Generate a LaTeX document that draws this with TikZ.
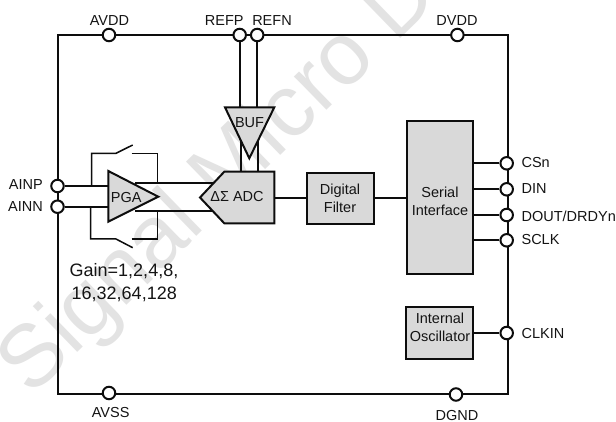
\documentclass[tikz,border=0pt]{standalone}
\usepackage{fontspec}
\setmainfont{Liberation Sans}
\tikzset{
  wire/.style={line width=2pt,draw=black!95,line join=miter},
  thin wire/.style={line width=1.5pt,draw=black!95},
  pin/.style={circle,draw=black!95,line width=2pt,fill=white,minimum size=12.5pt,inner sep=0pt},
  block/.style={draw=black!95,line width=2pt,fill=boxgray,inner sep=0pt},
  lbl/.style={inner sep=0pt,font=\fontsize{14.5}{17.7}\selectfont,text=black!92},
  inlbl/.style={lbl,align=center},
}
\definecolor{boxgray}{HTML}{D9D9D9}
\definecolor{wm}{HTML}{E3E3E3}
\begin{document}
\begin{tikzpicture}[x=1pt,y=-1pt]
\useasboundingbox (0,0) rectangle (616,422);
\fill[white] (0,0) rectangle (616,422);
\begin{scope}
\clip (0,0) rectangle (616,422);
\node[anchor=base west,rotate=44.2,inner sep=0pt,text=wm,font=\fontsize{88}{88}\selectfont] (wmark) at (31,398) {Signal Micro D};
\end{scope}
% frame
\coordinate (tl) at (58,35);
\coordinate (tr) at (508,35);
\coordinate (br) at (508,394);
\coordinate (bl) at (58,394);
\draw[wire] (tl) -- (tr) -- (br) -- (bl) -- cycle;
% blocks
\node[block,minimum width=66pt,minimum height=153pt] (serial) at (440,197.5) {};
\node[block,minimum width=67pt,minimum height=52pt] (osc) at (439.5,333.3) {};
\node[block,minimum width=67pt,minimum height=51.5pt] (filter) at (340,198.3) {};
% pins
\node[pin] (avdd) at (109,35) {};
\node[pin] (refp) at (239.7,35) {};
\node[pin] (refn) at (257.2,35) {};
\node[pin] (dvdd) at (457.4,35) {};
\node[pin] (avss) at (109,393) {};
\node[pin] (dgnd) at (456,394.5) {};
\node[pin] (ainp) at (57.5,186) {};
\node[pin] (ainn) at (57.5,206.7) {};
\node[pin] (csn) at (506.7,163.3) {};
\node[pin] (din) at (506.7,189.3) {};
\node[pin] (dout) at (506.7,215) {};
\node[pin] (sclk) at (506.7,240.3) {};
\node[pin] (clkin) at (506.7,333) {};
% geometry
\coordinate (pgaL1) at (108.3,171);
\coordinate (pgaL2) at (108.3,221.7);
\coordinate (pgaT) at (158.3,196.7);
\coordinate (adcA) at (224.3,171.7);
\coordinate (adcB) at (274.3,171.7);
\coordinate (adcC) at (274.3,223.3);
\coordinate (adcD) at (224.3,223.3);
\coordinate (adcT) at (200,197.5);
\coordinate (bufA) at (225,107.3);
\coordinate (bufB) at (274.3,107.3);
\coordinate (bufT) at (249.3,158.3);
% connectors
\draw[wire] (ainp.east) -- (pgaL1 |- ainp.east);
\draw[wire] (ainn.east) -- (pgaL1 |- ainn.east);
\draw[wire] (135,183.3) -- (214,183.3);
\draw[wire] (135,210.7) -- (214,210.7);
\draw[wire] (refp.south) -- (refp |- bufA);
\draw[wire] (refn.south) -- (refn |- bufA);
\draw[wire] (241,125) -- (241,171.7);
\draw[wire] (257.7,125) -- (257.7,171.7);
\draw[wire] (adcB |- filter.west) -- (filter.west);
\draw[wire] (filter.east) -- (serial.west |- filter.east);
\draw[wire] (serial.east |- csn) -- (csn.west);
\draw[wire] (serial.east |- din) -- (din.west);
\draw[wire] (serial.east |- dout) -- (dout.west);
\draw[wire] (serial.east |- sclk) -- (sclk.west);
\draw[wire] (osc.east |- clkin) -- (clkin.west);
% switches
\coordinate (s1a) at (91.7,186);
\coordinate (s1b) at (91.7,153.3);
\coordinate (s1c) at (116,153.3);
\coordinate (s1d) at (132.7,145);
\coordinate (s1e) at (131.7,153.3);
\coordinate (s1f) at (157.3,153.3);
\coordinate (s1g) at (157.3,183.3);
\draw[thin wire] (s1a) -- (s1b) -- (s1c) -- (s1d);
\draw[thin wire] (s1e) -- (s1f) -- (s1g);
\coordinate (s2a) at (90.7,206.7);
\coordinate (s2b) at (90.7,239);
\coordinate (s2c) at (116,239);
\coordinate (s2d) at (132.7,247.7);
\coordinate (s2e) at (131.7,239);
\coordinate (s2f) at (157.3,239);
\coordinate (s2g) at (157.3,210.7);
\draw[thin wire] (s2a) -- (s2b) -- (s2c) -- (s2d);
\draw[thin wire] (s2e) -- (s2f) -- (s2g);
% shapes
\draw[wire,fill=boxgray] (pgaL1) -- (pgaT) -- (pgaL2) -- cycle;
\draw[wire,fill=boxgray] (adcA) -- (adcB) -- (adcC) -- (adcD) -- (adcT) -- cycle;
\draw[wire,fill=boxgray] (bufA) -- (bufB) -- (bufT) -- cycle;
% inner labels
\node[lbl] (pgal) at (126.3,197.7) {PGA};
\node[lbl] (adcl) at (237,196.7) {ΔΣ ADC};
\node[lbl] (bufl) at (249.5,122.3) {BUF};
\node[inlbl] (filterl) at (340,198) {Digital\\Filter};
\node[inlbl] (seriall) at (440,201) {Serial\\Interface};
\node[inlbl] (oscl) at (440,327) {Internal\\Oscillator};
% pin labels
\node[lbl] (lavdd) at (109.5,20.7) {AVDD};
\node[lbl] (lrefp) at (224.2,20.7) {REFP};
\node[lbl] (lrefn) at (272,20.7) {REFN};
\node[lbl] (ldvdd) at (457,20.7) {DVDD};
\node[lbl] (lavss) at (110.7,412.7) {AVSS};
\node[lbl] (ldgnd) at (457,415.7) {DGND};
\node[lbl,anchor=east] (lainp) at (43,184.3) {AINP};
\node[lbl,anchor=east] (lainn) at (43,206.3) {AINN};
\node[lbl,anchor=west] (lcsn) at (521.4,163) {CSn};
\node[lbl,anchor=west] (ldin) at (521.4,188.7) {DIN};
\node[lbl,anchor=west] (ldout) at (521.4,216) {DOUT/DRDYn};
\node[lbl,anchor=west] (lsclk) at (521.4,239.3) {SCLK};
\node[lbl,anchor=west] (lclkin) at (521.4,333.3) {CLKIN};
\node[lbl,anchor=base west,font=\fontsize{18}{22}\selectfont] (gain1) at (69.5,276.5) {Gain=1,2,4,8,};
\node[lbl,anchor=base west,font=\fontsize{18}{22}\selectfont] (gain2) at (71.5,299) {16,32,64,128};
\end{tikzpicture}
\end{document}
